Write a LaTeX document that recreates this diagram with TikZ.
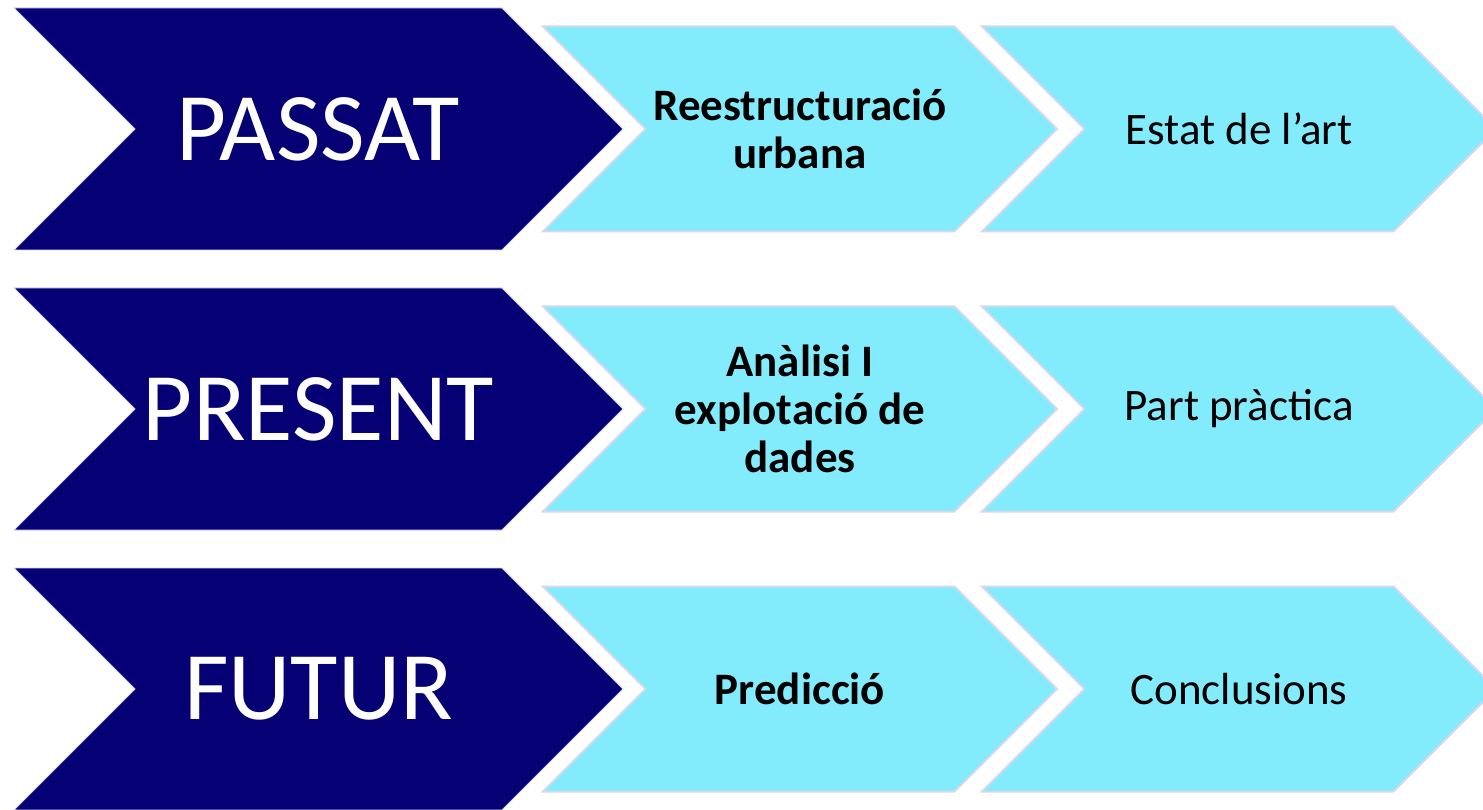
\documentclass[tikz,border=0pt]{standalone}
\usepackage{fontspec}
\setmainfont{Carlito}
\usetikzlibrary{shapes.symbols,positioning}

\definecolor{navy}{RGB}{5,0,115}
\definecolor{sky}{RGB}{130,236,253}
\definecolor{lavender}{RGB}{210,216,238}

\begin{document}
\begin{tikzpicture}[x=1pt,y=-1pt,
                    chevron/.style={signal,signal from=west,signal to=east,
                                    signal pointer angle=90,inner sep=0pt,outer sep=0pt},
                    era/.style={chevron,fill=navy,draw=lavender,line width=0.8pt,
                                text=white,minimum width=609pt,minimum height=242pt,
                                font=\fontsize{97}{100}\selectfont},
                    stage/.style={chevron,fill=sky,draw=lavender,line width=2pt,
                                  text=black,minimum width=514pt,minimum height=205pt,
                                  align=center,font=\fontsize{45}{48}\selectfont}]
  \useasboundingbox (0,0) rectangle (1483,810);

  % left column
  \node[era]   (passat)                       at (318.5,129) {PASSAT};
  \node[era]   (present) [below=38pt of passat]              {PRESENT};
  \node[era]   (futur)   [below=38pt of present]             {FUTUR};

  % middle column
  \node[stage] (reest)                        at (800,129) {\textbf{Reestructuració}\\\textbf{urbana}};
  \node[stage] (analisi) [below=75pt of reest]             {\textbf{Anàlisi I}\\\textbf{explotació de}\\\textbf{dades}};
  \node[stage] (predic)  [below=75pt of analisi]           {\textbf{Predicció}};

  % right column
  \node[stage] (estat)                        at (1239,129) {Estat de l’art};
  \node[stage] (part)    [below=75pt of estat]              {Part pràctica};
  \node[stage] (concl)   [below=75pt of part]               {Conclusions};
\end{tikzpicture}
\end{document}
